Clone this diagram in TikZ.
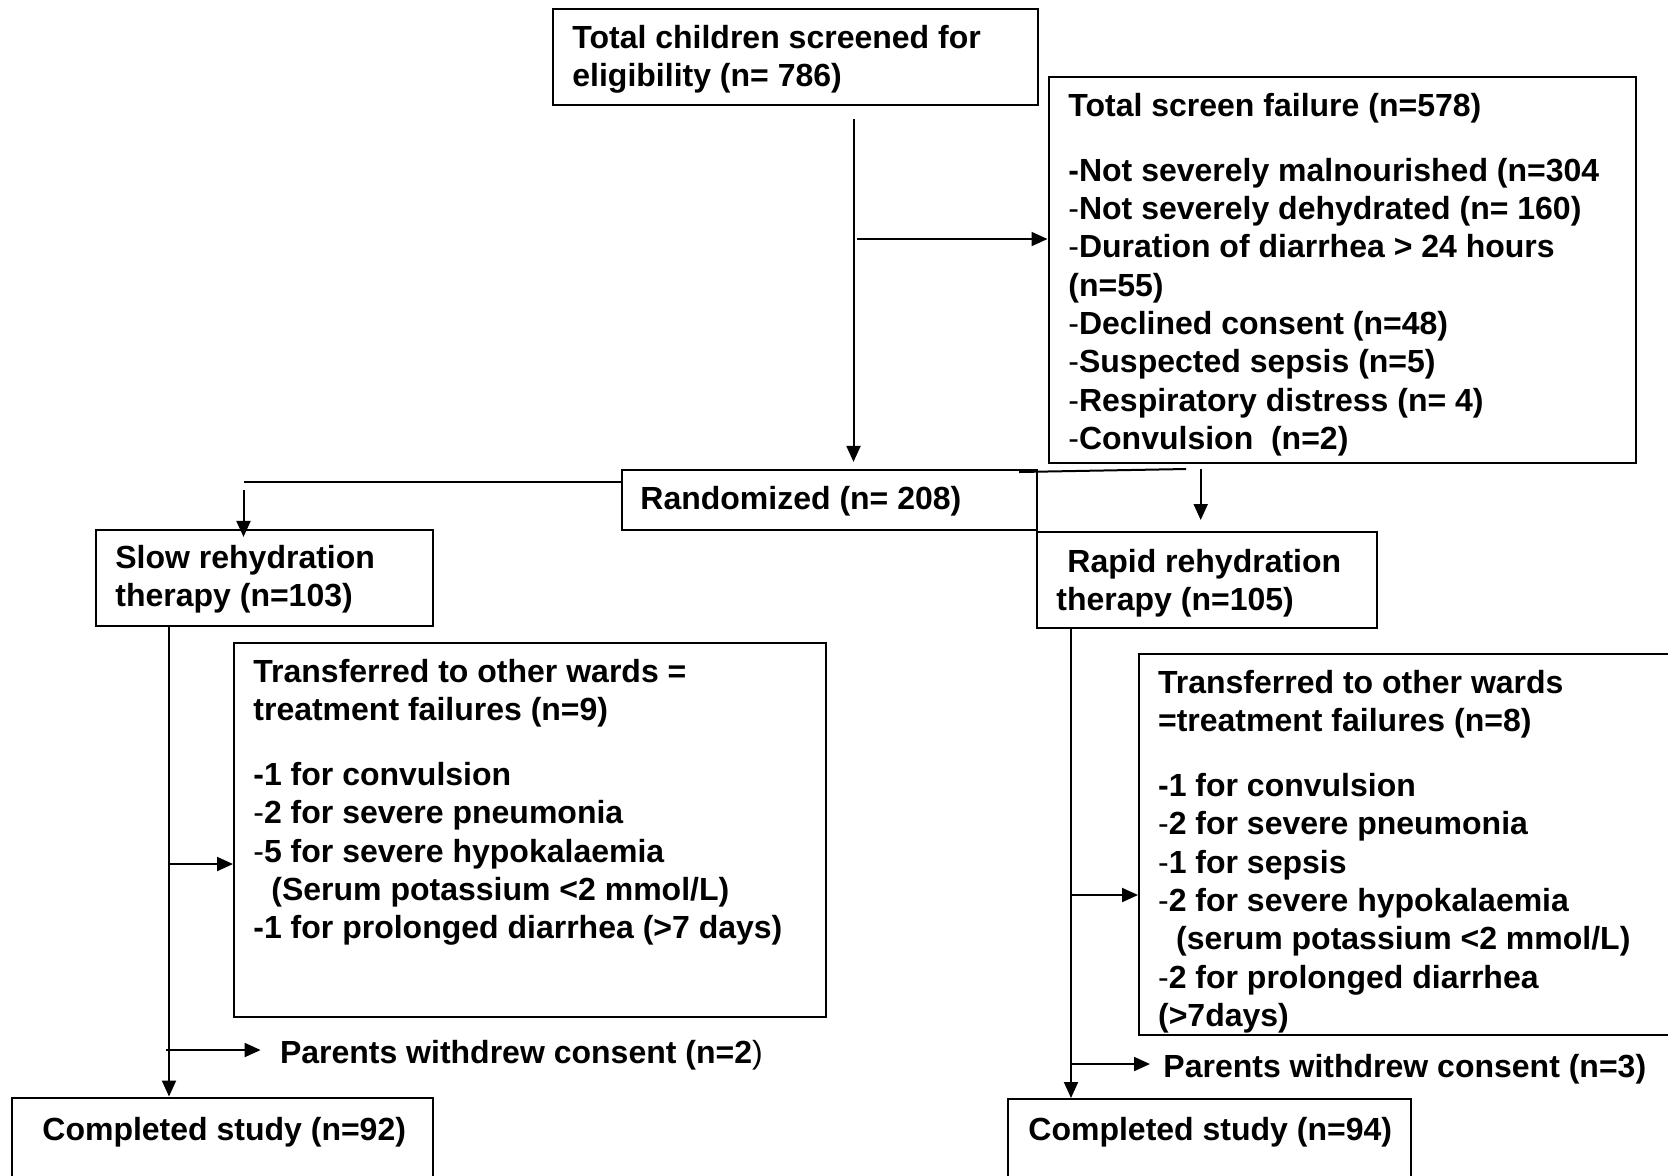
\documentclass[tikz,border=0pt]{standalone}
\usepackage{fontspec}
\setmainfont{Liberation Sans}
\usetikzlibrary{arrows.meta,calc}

\newcommand{\lightdash}{{\mdseries -}}
\newcommand{\linesbox}[1]{\begin{tabular}[t]{@{}l@{}}#1\end{tabular}}

\tikzset{
  box/.style={draw, line width=1pt, anchor=north west, inner sep=0pt},
  txt/.style={anchor=base west, inner sep=0pt},
  arr/.style={line width=1pt, -{Triangle[length=8pt,width=7pt]}},
  link/.style={line width=1pt},
}

\begin{document}
\begin{tikzpicture}[x=0.5pt,y=-0.5pt,
  every node/.append style={font=\fontsize{16pt}{19.15pt}\selectfont\bfseries}]
  \clip (0,0) rectangle (1668,1175);
  \fill[white] (0,0) rectangle (1668,1175);

  % boxes
  \node[box, minimum width=242.5pt, minimum height=48pt] (scr) at (552,8.3) {};
  \node[box, minimum width=293.5pt, minimum height=192.85pt] (fail) at (1047.5,76) {};
  \node[box, minimum width=207.5pt, minimum height=29.85pt] (ran) at (621,469.3) {};
  \node[box, minimum width=168.35pt, minimum height=48pt] (slow) at (95,528.5) {};
  \node[box, minimum width=169.8pt, minimum height=48.2pt] (rap) at (1036,531) {};
  \node[box, minimum width=295.9pt, minimum height=187.15pt] (tr1) at (233,641.7) {};
  \node[box, minimum width=291pt, minimum height=190.4pt] (tr2) at (1138,653) {};
  \node[box, minimum width=210.75pt, minimum height=60pt] (cmp1) at (10.5,1096.5) {};
  \node[box, minimum width=201.35pt, minimum height=60pt] (cmp2) at (1007.3,1098) {};

  % texts
  \node[txt] (scrT) at (572,48) {\linesbox{Total children screened for\\eligibility (n= 786)}};
  \node[txt] (failT) at (1068,116) {\linesbox{Total screen failure (n=578)\\[13.5pt]-Not severely malnourished (n=304\\\lightdash Not severely dehydrated (n= 160)\\\lightdash Duration of diarrhea > 24 hours\\(n=55)\\\lightdash Declined consent (n=48)\\\lightdash Suspected sepsis (n=5)\\\lightdash Respiratory distress (n= 4)\\\lightdash Convulsion\ \ (n=2)}};
  \node[txt] (ranT) at (640,509) {Randomized (n= 208)};
  \node[txt] (slowT) at (115,568.5) {\linesbox{Slow rehydration\\therapy (n=103)}};
  \node[txt] (rapT) at (1056,572) {\linesbox{\hspace*{5.5pt}Rapid rehydration\\therapy (n=105)}};
  \node[txt] (tr1T) at (253,682) {\linesbox{Transferred to other wards =\\treatment failures (n=9)\\[13.5pt]-1 for convulsion\\\lightdash 2 for severe pneumonia\\\lightdash 5 for severe hypokalaemia\\\hspace*{9pt}(Serum potassium <2 mmol/L)\\-1 for prolonged diarrhea (>7 days)}};
  \node[txt] (tr2T) at (1157.7,693) {\linesbox{Transferred to other wards\\=treatment failures (n=8)\\[13.5pt]-1 for convulsion\\\lightdash 2 for severe pneumonia\\\lightdash 1 for sepsis\\\lightdash 2 for severe hypokalaemia\\\hspace*{9pt}(serum potassium <2 mmol/L)\\\lightdash 2 for prolonged diarrhea\\(>7days)}};
  \node[txt] (pw1) at (279.6,1063) {Parents withdrew consent (n=2{\mdseries )}};
  \node[txt] (pw2) at (1163,1077) {Parents withdrew consent (n=3)};
  \node[txt] (cmp1T) at (42,1140) {Completed study (n=92)};
  \node[txt] (cmp2T) at (1028,1140) {Completed study (n=94)};

  % screening
  \coordinate (a1) at (853.5,119);
  \draw[arr] (a1) -- ([yshift=3.7pt]a1 |- ran.north);
  \coordinate (a2) at (857,239);
  \draw[arr] (a2) -- (a2 -| fail.west);

  % randomized to the two arms
  \coordinate (b1) at (243.5,482);
  \draw[link] (b1 -| ran.west) -- (b1);
  \coordinate (b2) at (243.5,490);
  \draw[arr] (b2) -- ([yshift=-4.2pt]b2 |- slow.north);
  \coordinate (c1) at (1019,472);
  \coordinate (c2) at (1186,469);
  \draw[link] (c1) -- (c2);
  \coordinate (c3) at (1200.7,469);
  \draw[arr] (c3) -- ([yshift=5.5pt]c3 |- rap.north);

  % slow arm
  \coordinate (d1) at ([xshift=37pt]slow.south west);
  \draw[arr] (d1) -- (d1 |- cmp1.north);
  \coordinate (d2) at (169,864);
  \draw[arr] (d2) -- (d2 -| tr1.west);
  \coordinate (d3) at (166,1050);
  \draw[arr] (d3) -- ([xshift=-9.5pt]d3 -| pw1.west);

  % rapid arm
  \coordinate (e1) at ([xshift=17.5pt]rap.south west);
  \draw[arr] (e1) -- (e1 |- cmp2.north);
  \coordinate (e2) at (1071,895);
  \draw[arr] (e2) -- (e2 -| tr2.west);
  \coordinate (e3) at (1071,1064);
  \draw[arr] (e3) -- ([xshift=-6.5pt]e3 -| pw2.west);
\end{tikzpicture}
\end{document}
